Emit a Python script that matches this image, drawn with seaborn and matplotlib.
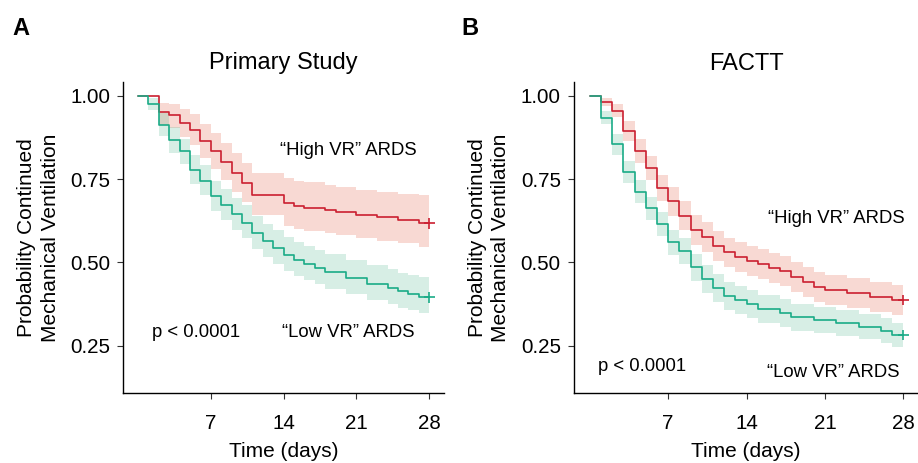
import numpy as np
import pandas as pd
import matplotlib
matplotlib.use("Agg")
import matplotlib.pyplot as plt
import seaborn as sns

# ==== Data ====
# Panel A - Primary Study
tA_hi = [0, 2, 3, 4, 5, 6, 7, 8, 9, 10, 11, 14, 15, 16, 18, 19, 21, 23, 25, 27, 28]
sA_hi = [1.0, 0.952, 0.944, 0.919, 0.899, 0.864, 0.834, 0.802, 0.769, 0.740, 0.703,
         0.678, 0.670, 0.665, 0.657, 0.651, 0.642, 0.636, 0.629, 0.618, 0.618]
uA_hi = [1.0, 0.979, 0.975, 0.960, 0.945, 0.915, 0.888, 0.858, 0.828, 0.800, 0.770,
         0.753, 0.746, 0.741, 0.733, 0.727, 0.718, 0.712, 0.706, 0.703, 0.703]
lA_hi = [1.0, 0.914, 0.905, 0.878, 0.853, 0.815, 0.782, 0.748, 0.712, 0.683, 0.642,
         0.610, 0.601, 0.596, 0.588, 0.582, 0.572, 0.565, 0.558, 0.547, 0.547]

tA_lo = [0, 1, 2, 3, 4, 5, 6, 7, 8, 9, 10, 11, 12, 13, 14, 15, 16, 17, 18,
         20, 22, 24, 25, 26, 27, 28]
sA_lo = [1.0, 0.976, 0.912, 0.867, 0.834, 0.779, 0.746, 0.699, 0.673, 0.645, 0.620,
         0.588, 0.563, 0.543, 0.523, 0.508, 0.495, 0.483, 0.470, 0.453, 0.436, 0.423,
         0.413, 0.405, 0.395, 0.395]
uA_lo = [1.0, 0.994, 0.949, 0.906, 0.870, 0.822, 0.792, 0.746, 0.722, 0.695, 0.672,
         0.640, 0.616, 0.597, 0.577, 0.562, 0.549, 0.537, 0.525, 0.508, 0.492, 0.479,
         0.469, 0.462, 0.455, 0.455]
lA_lo = [1.0, 0.958, 0.880, 0.830, 0.796, 0.736, 0.702, 0.655, 0.627, 0.598, 0.572,
         0.540, 0.515, 0.494, 0.474, 0.459, 0.446, 0.434, 0.421, 0.404, 0.387, 0.374,
         0.364, 0.356, 0.348, 0.348]

# Panel B - FACTT
tB_hi = [0, 1, 2, 3, 4, 5, 6, 7, 8, 9, 10, 11, 12, 13, 14, 15, 16, 17, 18, 19, 20,
         21, 23, 25, 27, 28]
sB_hi = [1.0, 0.982, 0.956, 0.894, 0.836, 0.784, 0.724, 0.684, 0.641, 0.598, 0.577,
         0.550, 0.530, 0.517, 0.504, 0.494, 0.484, 0.474, 0.457, 0.442, 0.427, 0.417,
         0.407, 0.397, 0.387, 0.387]
uB_hi = [1.0, 0.994, 0.975, 0.924, 0.872, 0.821, 0.764, 0.727, 0.685, 0.643, 0.622,
         0.595, 0.575, 0.562, 0.549, 0.539, 0.529, 0.519, 0.502, 0.487, 0.472, 0.462,
         0.452, 0.442, 0.432, 0.432]
lB_hi = [1.0, 0.970, 0.937, 0.864, 0.800, 0.747, 0.684, 0.641, 0.597, 0.553, 0.532,
         0.505, 0.485, 0.472, 0.459, 0.449, 0.439, 0.429, 0.412, 0.397, 0.382, 0.372,
         0.362, 0.352, 0.342, 0.342]

tB_lo = [0, 1, 2, 3, 4, 5, 6, 7, 8, 9, 10, 11, 12, 13, 14, 15, 17, 18, 20, 22, 24,
         26, 27, 28]
sB_lo = [1.0, 0.935, 0.855, 0.771, 0.713, 0.663, 0.616, 0.561, 0.533, 0.485, 0.450,
         0.423, 0.400, 0.387, 0.374, 0.359, 0.347, 0.335, 0.327, 0.317, 0.307, 0.295,
         0.282, 0.282]
uB_lo = [1.0, 0.955, 0.886, 0.804, 0.748, 0.698, 0.653, 0.599, 0.572, 0.525, 0.491,
         0.465, 0.442, 0.429, 0.416, 0.401, 0.389, 0.376, 0.367, 0.356, 0.345, 0.332,
         0.318, 0.318]
lB_lo = [1.0, 0.915, 0.824, 0.738, 0.678, 0.628, 0.579, 0.523, 0.494, 0.445, 0.409,
         0.381, 0.358, 0.345, 0.332, 0.317, 0.305, 0.294, 0.287, 0.278, 0.269, 0.258,
         0.246, 0.246]

x_ticks = [7, 14, 21, 28]
y_ticks = [0.25, 0.50, 0.75, 1.00]
y_ticklabels = ["0.25", "0.50", "0.75", "1.00"]
titles = ["Primary Study", "FACTT"]
panel_letters = ["A", "B"]

# ==== Build long table ====
def km_frame(t, s, lo, hi, group, panel):
    return pd.DataFrame({"time": t, "surv": s, "lower": lo, "upper": hi,
                         "group": group, "panel": panel})

df = pd.concat([
    km_frame(tA_hi, sA_hi, lA_hi, uA_hi, "High", "A"),
    km_frame(tA_lo, sA_lo, lA_lo, uA_lo, "Low", "A"),
    km_frame(tB_hi, sB_hi, lB_hi, uB_hi, "High", "B"),
    km_frame(tB_lo, sB_lo, lB_lo, uB_lo, "Low", "B"),
], ignore_index=True)

line_colors = {"High": "#CB1F30", "Low": "#1AAB87"}
fill_colors = {"High": "#E9846E", "Low": "#4CB38C"}
fill_alpha = {"High": 0.30, "Low": 0.22}

# ==== Style ====
sns.set_style("ticks")
plt.rcParams["font.family"] = ["Liberation Sans", "DejaVu Sans"]
plt.rcParams["text.color"] = "black"
plt.rcParams["axes.labelcolor"] = "black"

W, H = 918, 463
fig = plt.figure(figsize=(W / 100, H / 100), dpi=100)
axA = fig.add_axes([123.4 / W, 70 / H, 320.4 / W, 311 / H])
axB = fig.add_axes([574 / W, 70 / H, 344 / W, 311 / H])
axes = {"A": axA, "B": axB}

ylab_x = {"A": -0.265, "B": -0.247}
xlims = {"A": (-1.4, 29.4), "B": (-1.4, 29.3)}

for i, (panel, ax) in enumerate(axes.items()):
    sub = df[df["panel"] == panel]
    for grp in ["High", "Low"]:
        g = sub[sub["group"] == grp]
        ax.fill_between(g["time"], g["lower"], g["upper"], step="post",
                        color=fill_colors[grp], alpha=fill_alpha[grp], lw=0)
    sns.lineplot(data=sub, x="time", y="surv", hue="group", palette=line_colors,
                 estimator=None, drawstyle="steps-post", linewidth=1.2,
                 legend=False, ax=ax)
    last = sub.loc[sub.groupby("group")["time"].idxmax()]
    sns.scatterplot(data=last, x="time", y="surv", hue="group", palette=line_colors,
                    marker="+", s=60, linewidth=1.2, legend=False, ax=ax)

    ax.set_xlim(*xlims[panel])
    ax.set_ylim(0.108, 1.042)
    ax.set_xticks(x_ticks)
    ax.set_xticklabels([str(x) for x in x_ticks])
    ax.set_yticks(y_ticks)
    ax.set_yticklabels(y_ticklabels)
    ax.tick_params(axis="both", labelsize=14.8, length=4.5, width=0.8,
                   color="#333333", labelcolor="black")
    ax.tick_params(axis="x", pad=10.5)
    ax.tick_params(axis="y", pad=5)
    sns.despine(ax=ax)
    for sp in ["left", "bottom"]:
        ax.spines[sp].set_linewidth(1.0)
        ax.spines[sp].set_color("black")

    ax.set_title(titles[i], fontsize=17, pad=9)
    ax.set_xlabel("Time (days)", fontsize=15)
    ax.xaxis.set_label_coords(0.5, -0.158)
    ax.set_ylabel("Probability Continued\nMechanical Ventilation", fontsize=15,
                  va="center", multialignment="center", linespacing=1.3)
    ax.yaxis.set_label_coords(ylab_x[panel], 0.5)

# ==== Annotations ====
txt = dict(fontsize=13.3, ha="center", va="baseline")
axA.text(20.2, 0.823, "\u201cHigh VR\u201d ARDS", **txt)
axA.text(20.2, 0.275, "\u201cLow VR\u201d ARDS", **txt)
axA.text(5.6, 0.275, "p < 0.0001", **txt)
axB.text(22.0, 0.618, "\u201cHigh VR\u201d ARDS", **txt)
axB.text(21.75, 0.157, "\u201cLow VR\u201d ARDS", **txt)
axB.text(4.64, 0.175, "p < 0.0001", **txt)

fig.text(21 / W, 1 - 35 / H, panel_letters[0], fontsize=17, fontweight="bold",
         ha="center", va="baseline")
fig.text(470 / W, 1 - 35 / H, panel_letters[1], fontsize=17, fontweight="bold",
         ha="center", va="baseline")

fig.savefig("out.png", dpi=100)
